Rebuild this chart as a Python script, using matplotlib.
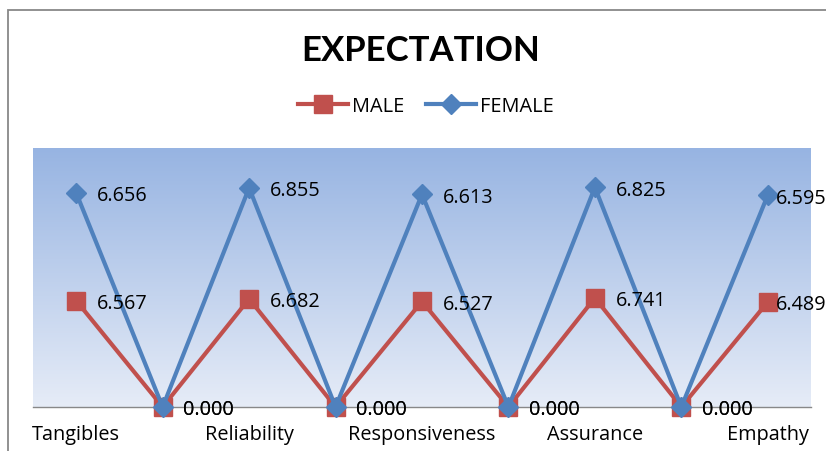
import numpy as np
import matplotlib
matplotlib.use("Agg")
import matplotlib.pyplot as plt
from matplotlib.patches import Rectangle
from matplotlib.colors import LinearSegmentedColormap

plt.rcParams['font.family'] = ['Open Sans', 'DejaVu Sans']

categories = ["Tangibles", "", "Reliability", "", "Responsiveness", "", "Assurance", "", "Empathy"]
male = [6.567, 0.0, 6.682, 0.0, 6.527, 0.0, 6.741, 0.0, 6.489]
female = [6.656, 0.0, 6.855, 0.0, 6.613, 0.0, 6.825, 0.0, 6.595]

RED = '#C0504D'
BLUE = '#4F81BD'

W, H = 826, 452
fig = plt.figure(figsize=(W / 100, H / 100), dpi=100)

# outer chart border (runs off the right / bottom of the picture)
fig.patches.append(Rectangle((8 / W, -0.1), 1.2, 1 - 11 / H + 0.1, transform=fig.transFigure,
                             fill=False, edgecolor='#888888', linewidth=1.3))

ax = fig.add_axes([33 / W, 1 - 408 / H, (811 - 33) / W, (408 - 149) / H])
x = np.arange(len(categories))
ax.set_xlim(-0.5, len(categories) - 0.5)
ax.set_ylim(0, 16)

# gradient plot-area fill
cmap = LinearSegmentedColormap.from_list('bg', ['#E6ECF7', '#97B4E2'])
grad = np.linspace(0, 1, 256).reshape(-1, 1)
ax.imshow(grad, aspect='auto', cmap=cmap, origin='lower',
          extent=[-0.5, len(categories) - 0.5, 0, 16], zorder=0)

# stacked line chart
stack_f = np.array(male) + np.array(female)
ax.plot(x, male, color=RED, lw=3, marker='s', ms=13, mec=RED, mfc=RED,
        label='MALE', clip_on=False, zorder=3)
ax.plot(x, stack_f, color=BLUE, lw=3, marker='D', ms=10, mec=BLUE, mfc=BLUE,
        label='FEMALE', clip_on=False, zorder=4)

fs = 14.3
for xi, m, f, s in zip(x, male, female, stack_f):
    dx = 15 if xi < len(categories) - 1 else 6  # last labels squeezed in
    ax.annotate(f"{m:.3f}", (xi, m), xytext=(dx, 0), textcoords='offset points',
                ha='left', va='center_baseline', fontsize=fs, annotation_clip=False, zorder=5)
    ax.annotate(f"{f:.3f}", (xi, s), xytext=(dx, 0), textcoords='offset points',
                ha='left', va='center_baseline', fontsize=fs, annotation_clip=False, zorder=5)

ax.set_xticks(x)
ax.set_xticklabels(categories, fontsize=fs)
ax.tick_params(axis='x', length=0, pad=12)
ax.set_yticks([])
for side in ['top', 'right', 'left']:
    ax.spines[side].set_visible(False)
ax.spines['bottom'].set_color('#888888')
ax.spines['bottom'].set_linewidth(1.0)
ax.spines['bottom'].set_zorder(2)

fig.text(421 / W, 1 - 51 / H, 'EXPECTATION', ha='center', va='center',
         fontsize=25, fontweight='bold', family=['Lato', 'DejaVu Sans'])
fig.legend(loc='center', bbox_to_anchor=(426 / W, 1 - 107 / H), ncol=2, frameon=False,
           fontsize=fs, handlelength=2.5, handletextpad=0.2, columnspacing=1.1)

fig.savefig('out.png', dpi=100)
